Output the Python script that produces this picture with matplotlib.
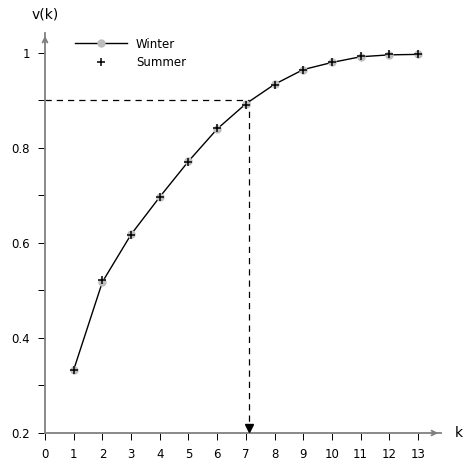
import matplotlib.pyplot as plt
import numpy as np

k = np.arange(1, 14)
winter = [0.333, 0.518, 0.618, 0.697, 0.772, 0.840, 0.893, 0.934, 0.965, 0.980, 0.992, 0.996, 0.997]
summer = [0.332, 0.523, 0.617, 0.697, 0.771, 0.841, 0.890, 0.932, 0.964, 0.980, 0.993, 0.997, 0.998]
x_ticks = list(range(0, 14))
y_ticks = [0.2, 0.4, 0.6, 0.8, 1.0]
y_tick_labels = ["0.2", "0.4", "0.6", "0.8", "1"]
level = 0.9
k_cross = 7.1

plt.rcParams["font.family"] = ["DejaVu Sans"]
plt.rcParams["font.size"] = 8.5

fig = plt.figure(figsize=(4.63, 4.61), dpi=100)
ax = fig.add_axes([45 / 463, 28 / 461, (441 - 45) / 463, (428 - 28) / 461])
ax.set_xlim(0, 13.8)
ax.set_ylim(0.2, 1.042)

ax.plot(k, winter, color="black", linewidth=1.0, marker="o", markersize=5,
        markerfacecolor="#bdbdbd", markeredgecolor="#bdbdbd", label="Winter", zorder=3)
ax.plot(k, summer, linestyle="none", marker="+", markersize=6, markeredgewidth=1.1,
        color="black", label="Summer", zorder=4)

# dashed guide at v(k) = 0.9
ax.plot([0, k_cross], [level, level], color="black", linestyle=(0, (5, 4)), linewidth=0.9)
ax.plot([k_cross, k_cross], [level, 0.2], color="black", linestyle=(0, (5, 4)), linewidth=0.9)
ax.plot([k_cross], [0.2105], marker="v", markersize=5.5, color="black", linestyle="none",
        clip_on=False, zorder=5)

for side in ["top", "right"]:
    ax.spines[side].set_visible(False)
for side in ["left", "bottom"]:
    ax.spines[side].set_color("#808080")
    ax.spines[side].set_linewidth(1.3)

ax.set_xticks(x_ticks)
ax.set_yticks(y_ticks)
ax.set_yticklabels(y_tick_labels)
ax.set_yticks([0.3, 0.5, 0.7, 0.9], minor=True)
ax.tick_params(axis="both", which="both", direction="out", length=5, width=0.7,
               color="black", labelsize=8.5, pad=6)

# arrowheads
ax.annotate("", xy=(1.0, 0), xycoords="axes fraction", xytext=(0.97, 0),
            arrowprops=dict(arrowstyle="->", color="#808080", lw=1.3))
ax.annotate("", xy=(0, 1.0), xycoords="axes fraction", xytext=(0, 0.97),
            arrowprops=dict(arrowstyle="->", color="#808080", lw=1.3))
ax.text(1.035, 0, "k", transform=ax.transAxes, ha="left", va="center", fontsize=10)
ax.text(0, 1.03, "v(k)", transform=ax.transAxes, ha="center", va="bottom", fontsize=10)

ax.legend(loc="upper left", bbox_to_anchor=(0.048, 1.015), frameon=False,
          handlelength=4.4, fontsize=8.5, labelspacing=0.45, handletextpad=0.8)

fig.savefig("out.png", dpi=100)
